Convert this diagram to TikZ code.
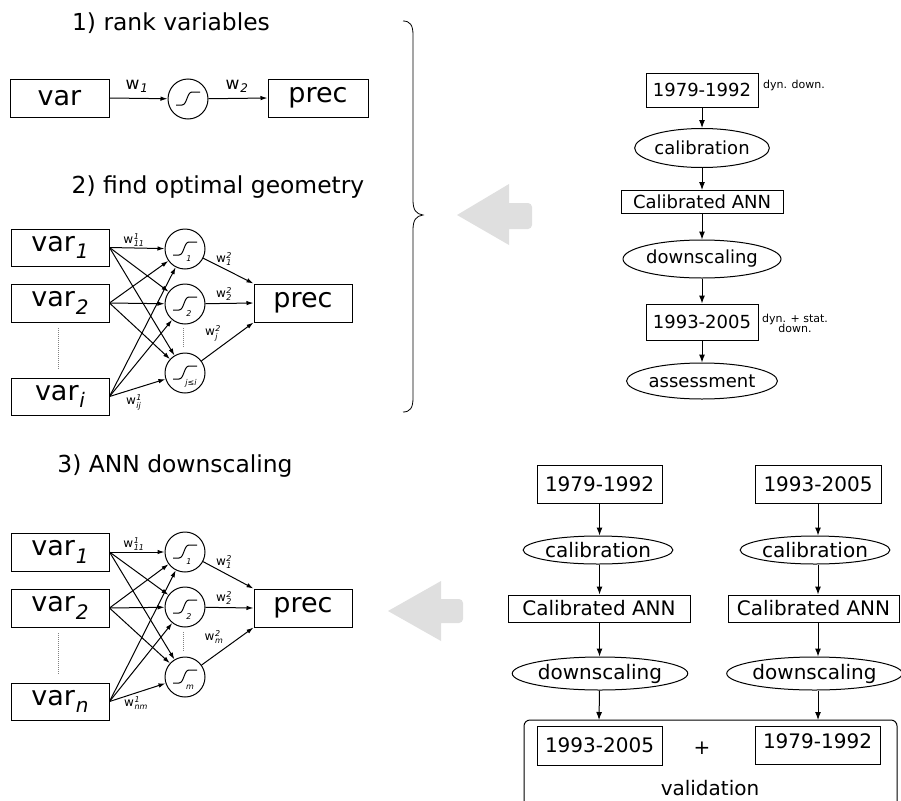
\documentclass[tikz,border=0pt]{standalone}
\usepackage{fontspec}
\setmainfont{DejaVu Sans}
\usepackage{amsmath}
\usetikzlibrary{arrows.meta,shapes.geometric,calc}
\definecolor{arrowgray}{RGB}{223,223,223}
\newcommand\setfs[1]{\fontsize{#1}{#1}\selectfont}
\newcommand\wlab[2]{w\kern0.05em$^{\text{\itshape #1}}_{\text{\itshape #2}}$}
\newcommand\wsub[1]{w\kern0.05em$_{\text{\itshape #1}}$}
\newcommand\varsub[1]{var\kern0.03em\raisebox{-0.28em}{\setfs{20}\itshape #1}}
\begin{document}
\begin{tikzpicture}[x=1pt,y=-1pt,line width=1pt,
  nbox/.style={draw,inner sep=0pt,font=\setfs{27}},
  neuron/.style={draw,circle,minimum size=40pt,inner sep=0pt},
  ntip/.style={-{Latex[length=7pt,width=4.5pt]}},
  ftip/.style={-{Latex[length=8pt,width=6pt]}},
  fbox/.style={draw,inner sep=0pt},
  fell/.style={draw,ellipse,inner sep=0pt},
  wl/.style={font=\setfs{12},inner sep=0pt},
  title/.style={font=\setfs{23.4}},
  nsub/.style={font=\setfs{8}\itshape,inner sep=0pt},
  dotl/.style={line width=0.8pt,gray,dash pattern=on 1pt off 1pt},
  sig/.pic={\draw[line width=1pt] (-12,6) -- (-6,6) .. controls (-1,6) and (-1,-7) .. (4,-7) -- (12,-7);}
]
\useasboundingbox (0,0) rectangle (901,800);

% ---------- 1) rank variables
\node[title] (t1) at (171,23) {1) rank variables};
\node[nbox,minimum width=99pt,minimum height=38pt] (v0) at (59.5,98) {var};
\node[neuron] (n0) at (188,99) {};
\path (n0) pic {sig};
\node[nbox,minimum width=100pt,minimum height=38pt] (p0) at (318,98) {prec};
\draw[ntip] (v0.east) -- (n0);
\draw[ntip] (n0) -- (p0.west);
\node[font=\setfs{17},inner sep=0pt] (w01) at (137,86) {\wsub{1}};
\node[font=\setfs{17},inner sep=0pt] (w02) at (237,86) {\wsub{2}};

% ---------- 2) find optimal geometry
\node[title] (t2) at (218,187) {2) find optimal geometry};
\node[nbox,minimum width=98pt,minimum height=37pt] (a1) at (60,247.5) {\varsub{1}};
\node[nbox,minimum width=98pt,minimum height=38pt] (a2) at (60,303) {\varsub{2}};
\node[nbox,minimum width=98pt,minimum height=37pt] (ai) at (60,396.5) {\varsub{i}};
\node[neuron] (an1) at (185,249) {};
\node[neuron] (an2) at (185,304) {};
\node[neuron] (anj) at (185,373) {};
\foreach \n in {an1,an2,anj} {\path (\n) pic {sig};}
\node[nsub] (ans1) at (189,259) {1};
\node[nsub] (ans2) at (189,314) {2};
\node[nsub] (ansj) at (191,383) {j≤i};
\node[nbox,minimum width=98pt,minimum height=38pt] (ap) at (303,303) {prec};
\foreach \s in {a1,a2,ai} {
  \foreach \t in {an1,an2,anj} {\draw[ntip] (\s.east) -- (\t);}
}
\draw[ntip] (an1) -- (ap.north west);
\draw[ntip] (an2) -- (ap.west);
\draw[ntip] (anj) -- (ap.south west);
\draw[dotl] (58,328) -- (58,370);
\draw[dotl] (183,328) -- (183,347);
\node[wl] (aw1) at (134,240) {\wlab{1}{11}};
\node[wl] (aw2) at (224,259) {\wlab{2}{1}};
\node[wl] (aw3) at (224,294) {\wlab{2}{2}};
\node[wl] (aw4) at (213,333) {\wlab{2}{j}};
\node[wl] (aw5) at (134,402) {\wlab{1}{ij}};

% ---------- 3) ANN downscaling
\node[title] (t3) at (175,466) {3) ANN downscaling};
\node[nbox,minimum width=98pt,minimum height=38pt] (b1) at (60,552) {\varsub{1}};
\node[nbox,minimum width=98pt,minimum height=38pt] (b2) at (60,608) {\varsub{2}};
\node[nbox,minimum width=98pt,minimum height=37pt] (bn) at (60,701.5) {\varsub{n}};
\node[neuron] (bn1) at (185,552) {};
\node[neuron] (bn2) at (185,607) {};
\node[neuron] (bnm) at (185,677) {};
\foreach \n in {bn1,bn2,bnm} {\path (\n) pic {sig};}
\node[nsub] (bns1) at (189,562) {1};
\node[nsub] (bns2) at (189,617) {2};
\node[nsub] (bnsm) at (190,687) {m};
\node[nbox,minimum width=98pt,minimum height=38pt] (bp) at (303,608) {prec};
\foreach \s in {b1,b2,bn} {
  \foreach \t in {bn1,bn2,bnm} {\draw[ntip] (\s.east) -- (\t);}
}
\draw[ntip] (bn1) -- (bp.north west);
\draw[ntip] (bn2) -- (bp.west);
\draw[ntip] (bnm) -- (bp.south west);
\draw[dotl] (58,633) -- (58,675);
\draw[dotl] (183,632) -- (183,652);
\node[wl] (bw1) at (134,544) {\wlab{1}{11}};
\node[wl] (bw2) at (224,562) {\wlab{2}{1}};
\node[wl] (bw3) at (224,598) {\wlab{2}{2}};
\node[wl] (bw4) at (214,637) {\wlab{2}{m}};
\node[wl] (bw5) at (136,703) {\wlab{1}{nm}};

% ---------- brace
\draw[line width=0.8pt] (403,21) .. controls (410,21) and (413,25) .. (413,35) -- (413,200)
  .. controls (413,210) and (416,214) .. (423,215)
  .. controls (416,216) and (413,220) .. (413,230) -- (413,398)
  .. controls (413,408) and (410,412) .. (403,412);

% ---------- gray arrows
\fill[arrowgray] (457,215) -- (509,184) -- (509,203) [rounded corners=4pt] -- (532,203) -- (532,229) [sharp corners] -- (509,229) -- (509,245) -- cycle;
\fill[arrowgray] (388,611) -- (441,581) -- (441,599) [rounded corners=4pt] -- (463,599) -- (463,623) [sharp corners] -- (441,623) -- (441,641) -- cycle;

% ---------- top right flow
\begin{scope}[every node/.append style={font=\setfs{18}}]
\node[fbox,minimum width=112pt,minimum height=34pt] (c1) at (702,90) {1979-1992};
\node[fell,minimum width=109pt,minimum height=39pt] (c2) at (702,148) {calibration};
\node[fbox,minimum width=162pt,minimum height=23pt] (c3) at (702,202) {Calibrated ANN};
\node[fell,minimum width=129pt,minimum height=38pt] (c4) at (702,259) {downscaling};
\node[fbox,minimum width=112pt,minimum height=36pt] (c5) at (702,322) {1993-2005};
\node[fell,minimum width=131pt,minimum height=36pt] (c6) at (702,381) {assessment};
\end{scope}
\node[font=\setfs{11}] (cn1) at (794,85) {dyn. down.};
\node[font=\setfs{11},align=center] (cn2) at (795,323) {dyn. + stat.\\[-1pt]down.};
\draw[ftip] (c1) -- (c2);
\draw[ftip] (c2) -- (c3);
\draw[ftip] (c3) -- (c4);
\draw[ftip] (c4) -- (c5);
\draw[ftip] (c5) -- (c6);

% ---------- bottom right flow
\begin{scope}[every node/.append style={font=\setfs{20}}]
\node[fbox,minimum width=125pt,minimum height=38pt] (l1) at (599.5,484) {1979-1992};
\node[fell,minimum width=114pt,minimum height=28pt] (l2) at (598,550) {calibration};
\node[fbox,minimum width=182pt,minimum height=27pt] (l3) at (599,608.5) {Calibrated ANN};
\node[fell,minimum width=144pt,minimum height=33pt] (l4) at (600,673.5) {downscaling};
\node[fbox,minimum width=126pt,minimum height=38pt] (r1) at (818,484) {1993-2005};
\node[fell,minimum width=114pt,minimum height=28pt] (r2) at (815,550) {calibration};
\node[fbox,minimum width=171pt,minimum height=27pt] (r3) at (813.5,608.5) {Calibrated ANN};
\node[fell,minimum width=135pt,minimum height=33pt] (r4) at (814.5,673.5) {downscaling};
\node[fbox,minimum width=125pt,minimum height=39pt] (v1) at (599.5,745.5) {1993-2005};
\node[fbox,minimum width=125pt,minimum height=38pt,text depth=8pt] (v2) at (817.5,745) {1979-1992};
\node (plus) at (702,748) {+};
\node (val) at (710,788) {validation};
\end{scope}
\draw[rounded corners=6pt] (524,802) -- (524,720) -- (897,720) -- (897,802);
\coordinate (vl) at (599,720);
\coordinate (vr) at (818,720);
\draw[ftip] (l1.south) -- (l1.south |- l2.north);
\draw[ftip] (l2.south -| l1.south) -- (l1.south |- l3.north);
\draw[ftip] (l3.south -| l1.south) -- (l1.south |- l4.north);
\draw[ftip] (l4.south -| l1.south) -- (vl);
\draw[ftip] (r1.south) -- (r1.south |- r2.north);
\draw[ftip] (r2.south -| r1.south) -- (r1.south |- r3.north);
\draw[ftip] (r3.south -| r1.south) -- (r1.south |- r4.north);
\draw[ftip] (r4.south -| r1.south) -- (vr);
\end{tikzpicture}
\end{document}
